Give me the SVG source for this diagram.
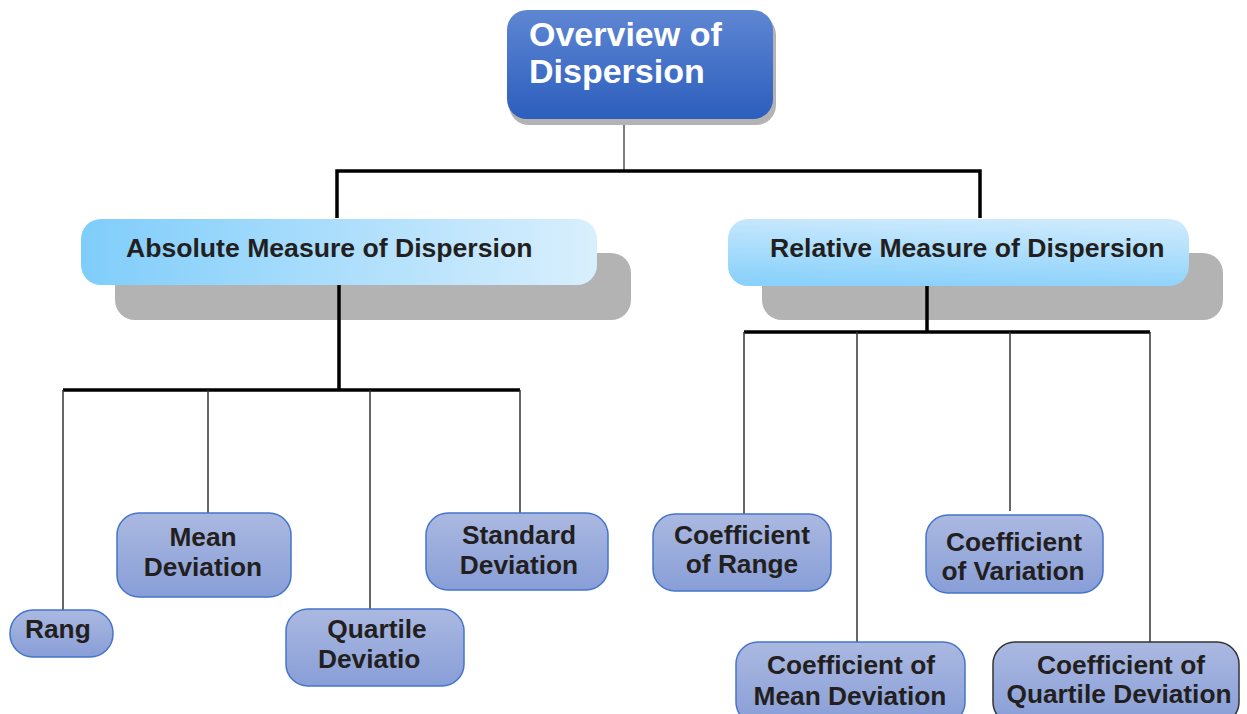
<svg xmlns="http://www.w3.org/2000/svg" width="1247" height="714" viewBox="0 0 1247 714">
<defs>
<linearGradient id="gTop" x1="0" y1="0" x2="0" y2="1">
<stop offset="0" stop-color="#5e86d3"/><stop offset="1" stop-color="#2c5ebd"/>
</linearGradient>
<linearGradient id="gAbs" x1="0" y1="0" x2="1" y2="0">
<stop offset="0" stop-color="#7fcdfb"/><stop offset="1" stop-color="#d9effd"/>
</linearGradient>
<linearGradient id="gRel" x1="0.6" y1="0" x2="0.4" y2="1">
<stop offset="0" stop-color="#cdeafd"/><stop offset="1" stop-color="#8ad1fb"/>
</linearGradient>
<linearGradient id="gLeaf" x1="0" y1="0" x2="0" y2="1">
<stop offset="0" stop-color="#abb9e1"/><stop offset="1" stop-color="#889ed7"/>
</linearGradient>
<style>
.leaf{fill:url(#gLeaf);stroke:#4574c9;stroke-width:1.5}
.lt{font-family:"Liberation Sans",Arial,sans-serif;font-weight:bold;font-size:26.3px;fill:#231f20;text-anchor:middle}
.l2{font-family:"Liberation Sans",Arial,sans-serif;font-weight:bold;font-size:26.6px;fill:#231f20}
.shadow{fill:#b3b3b3}
.thick{stroke:#000;stroke-width:3.5;fill:none}
.thin{stroke:#333;stroke-width:1.5;fill:none}
</style>
</defs>
<rect width="1247" height="714" fill="#fff"/>

<g id="connectors">
<line class="thin" x1="624" y1="118" x2="624" y2="171" style="stroke:#555"/>
<polyline class="thick" points="337,218 337,171 980,171 980,218"/>
<line class="thick" x1="339" y1="285" x2="339" y2="390"/>
<line class="thick" x1="63" y1="390" x2="520" y2="390"/>
<line class="thin" x1="63" y1="390" x2="63" y2="610"/>
<line class="thin" x1="208" y1="390" x2="208" y2="513"/>
<line class="thin" x1="370" y1="390" x2="370" y2="609"/>
<line class="thin" x1="520" y1="390" x2="520" y2="513"/>
<line class="thick" x1="927" y1="286" x2="927" y2="332"/>
<line class="thick" x1="744" y1="332" x2="1150" y2="332"/>
<line class="thin" x1="744" y1="332" x2="744" y2="514"/>
<line class="thin" x1="857" y1="332" x2="857" y2="642"/>
<line class="thin" x1="1010" y1="332" x2="1010" y2="511"/>
<line class="thin" x1="1150" y1="332" x2="1150" y2="642"/>
</g>

<g id="overview">
<rect class="shadow" x="509" y="15" width="267" height="110" rx="20" fill="#a9a9a9"/>
<rect x="507" y="10" width="266" height="109" rx="20" fill="url(#gTop)"/>
<text x="529" y="46" font-family="Liberation Sans, Arial, sans-serif" font-weight="bold" font-size="34" fill="#fff">Overview of</text>
<text x="529" y="83" font-family="Liberation Sans, Arial, sans-serif" font-weight="bold" font-size="34" fill="#fff">Dispersion</text>
</g>

<g id="absolute">
<rect class="shadow" x="115" y="253" width="516" height="67" rx="20"/>
<line class="thick" x1="339" y1="285" x2="339" y2="320"/>
<rect x="81" y="219" width="516" height="66" rx="20" fill="url(#gAbs)"/>
<text class="l2" x="126" y="257">Absolute Measure of Dispersion</text>
</g>

<g id="relative">
<rect class="shadow" x="762" y="253" width="461" height="67" rx="20"/>
<line class="thick" x1="927" y1="286" x2="927" y2="320"/>
<rect x="728" y="219" width="461" height="67" rx="20" fill="url(#gRel)"/>
<text class="l2" x="770" y="257">Relative Measure of Dispersion</text>
</g>

<g id="rang">
<rect class="leaf" x="10" y="610" width="103" height="47" rx="23"/>
<text class="lt" x="25" y="638" style="text-anchor:start">Rang</text>
</g>

<g id="mean-deviation">
<rect class="leaf" x="117" y="513" width="174" height="84" rx="22"/>
<text class="lt" x="203" y="546">Mean</text>
<text class="lt" x="203" y="576">Deviation</text>
</g>

<g id="quartile-deviation">
<rect class="leaf" x="286" y="609" width="178" height="77" rx="22"/>
<text class="lt" x="377" y="638">Quartile</text>
<text class="lt" x="318" y="668" style="text-anchor:start">Deviatio</text>
</g>

<g id="standard-deviation">
<rect class="leaf" x="426" y="513" width="182" height="77" rx="22"/>
<text class="lt" x="519" y="544">Standard</text>
<text class="lt" x="519" y="574">Deviation</text>
</g>

<g id="coef-range">
<rect class="leaf" x="653" y="514" width="178" height="77" rx="22"/>
<text class="lt" x="742" y="544">Coefficient</text>
<text class="lt" x="742" y="573">of Range</text>
</g>

<g id="coef-mean-deviation">
<rect class="leaf" x="736" y="642" width="229" height="82" rx="22"/>
<text class="lt" x="851" y="674">Coefficient of</text>
<text class="lt" x="850" y="705">Mean Deviation</text>
</g>

<g id="coef-variation">
<rect class="leaf" x="926" y="515" width="177" height="78" rx="22"/>
<text class="lt" x="1014" y="551">Coefficient</text>
<text class="lt" x="1013" y="580">of Variation</text>
</g>

<g id="coef-quartile-deviation">
<rect class="leaf" x="993" y="642" width="246" height="82" rx="22" style="stroke:#333"/>
<text class="lt" x="1121" y="674">Coefficient of</text>
<text class="lt" x="1119" y="703">Quartile Deviation</text>
</g>
</svg>
